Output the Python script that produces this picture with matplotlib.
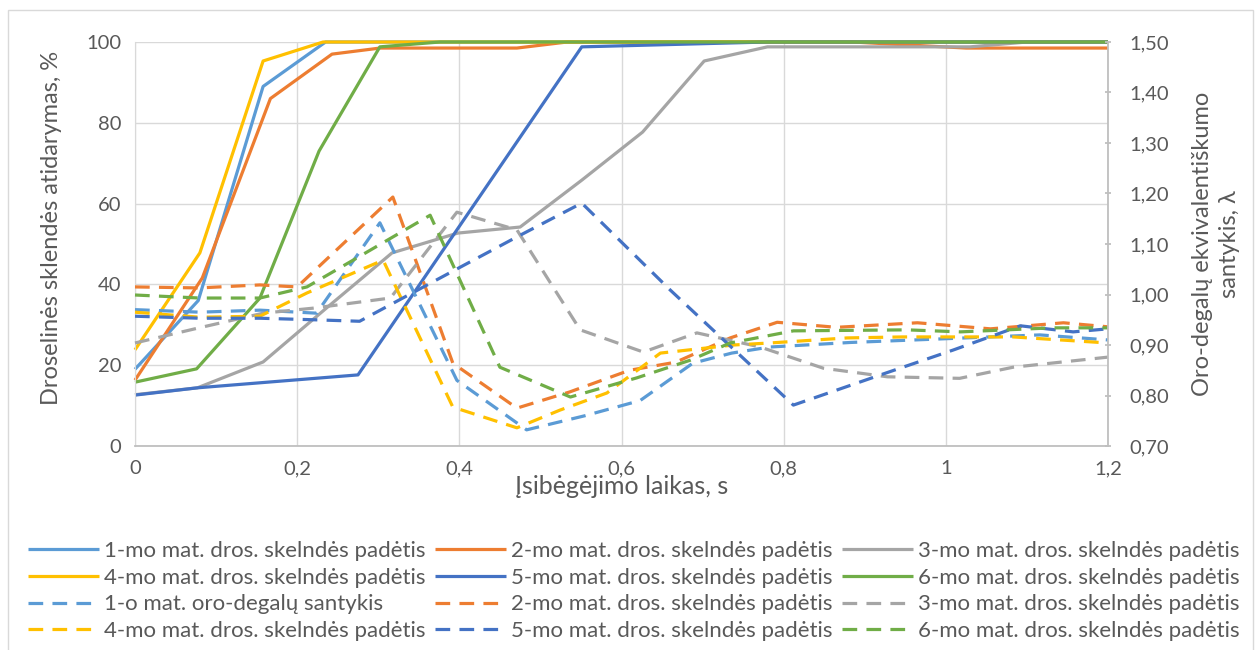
import matplotlib
matplotlib.use("Agg")
import matplotlib.pyplot as plt
from matplotlib.patches import Rectangle
from matplotlib.ticker import FuncFormatter, MultipleLocator

plt.rcParams['font.family'] = ['Lato', 'DejaVu Sans']

# --- throttle position (left axis, %) ---
t_s1 = [0, 0.078, 0.158, 0.235, 1.2]
v_s1 = [19.0, 36.0, 89.0, 100.0, 100.0]
t_s2 = [0, 0.083, 0.167, 0.243, 0.302, 0.471, 0.533, 0.885, 1.025, 1.2]
v_s2 = [16.3, 41.6, 86.0, 97.0, 98.5, 98.5, 100.0, 100.0, 98.5, 98.5]
t_s3 = [0, 0.077, 0.158, 0.237, 0.317, 0.398, 0.475, 0.551, 0.626, 0.702, 0.78, 1.03, 1.1, 1.2]
v_s3 = [12.7, 14.4, 20.8, 34.3, 47.8, 52.7, 54.2, 65.8, 77.7, 95.3, 98.8, 98.8, 100.0, 100.0]
t_s4 = [0, 0.08, 0.158, 0.232, 1.2]
v_s4 = [23.8, 47.8, 95.3, 100.0, 100.0]
t_s5 = [0, 0.077, 0.275, 0.551, 0.78, 1.2]
v_s5 = [12.6, 14.4, 17.6, 98.8, 100.0, 100.0]
t_s6 = [0, 0.076, 0.154, 0.227, 0.302, 0.376, 1.2]
v_s6 = [15.8, 19.1, 36.6, 73.0, 98.8, 100.0, 100.0]

# --- air-fuel equivalence ratio (right axis, lambda) ---
t_d1 = [0, 0.08, 0.154, 0.224, 0.302, 0.397, 0.483, 0.555, 0.623, 0.688, 0.736, 0.783, 0.882, 0.993, 1.116, 1.2]
v_d1 = [0.970, 0.965, 0.969, 0.963, 1.142, 0.830, 0.732, 0.760, 0.790, 0.864, 0.884, 0.896, 0.905, 0.912, 0.920, 0.910]
t_d2 = [0, 0.079, 0.154, 0.2, 0.318, 0.392, 0.471, 0.536, 0.61, 0.667, 0.734, 0.792, 0.865, 0.965, 1.055, 1.145, 1.2]
v_d2 = [1.015, 1.013, 1.019, 1.015, 1.193, 0.864, 0.775, 0.807, 0.850, 0.866, 0.914, 0.945, 0.935, 0.944, 0.932, 0.944, 0.936]
t_d3 = [0, 0.079, 0.158, 0.22, 0.315, 0.397, 0.471, 0.549, 0.627, 0.693, 0.771, 0.849, 0.928, 1.017, 1.083, 1.2]
v_d3 = [0.904, 0.934, 0.963, 0.973, 0.993, 1.163, 1.128, 0.930, 0.886, 0.924, 0.896, 0.854, 0.837, 0.834, 0.856, 0.876]
t_d4 = [0, 0.08, 0.154, 0.212, 0.306, 0.392, 0.471, 0.524, 0.582, 0.648, 0.738, 0.783, 0.878, 0.947, 1.083, 1.2]
v_d4 = [0.965, 0.955, 0.957, 1.003, 1.068, 0.777, 0.736, 0.771, 0.805, 0.884, 0.900, 0.904, 0.914, 0.916, 0.916, 0.904]
t_d5 = [0, 0.08, 0.154, 0.22, 0.277, 0.401, 0.471, 0.551, 0.66, 0.722, 0.812, 0.927, 1.009, 1.092, 1.157, 1.2]
v_d5 = [0.957, 0.953, 0.953, 0.950, 0.947, 1.054, 1.114, 1.181, 1.009, 0.916, 0.781, 0.845, 0.890, 0.938, 0.926, 0.932]
t_d6 = [0, 0.08, 0.154, 0.212, 0.269, 0.364, 0.45, 0.537, 0.619, 0.685, 0.734, 0.812, 0.952, 1.018, 1.132, 1.2]
v_d6 = [0.999, 0.993, 0.993, 1.015, 1.068, 1.157, 0.856, 0.797, 0.835, 0.870, 0.904, 0.928, 0.930, 0.926, 0.934, 0.934]

labels_solid = ["1-mo mat. dros. skelndės padėtis", "2-mo mat. dros. skelndės padėtis",
                "3-mo mat. dros. skelndės padėtis", "4-mo mat. dros. skelndės padėtis",
                "5-mo mat. dros. skelndės padėtis", "6-mo mat. dros. skelndės padėtis"]
labels_dashed = ["1-o mat. oro-degalų santykis", "2-mo mat. dros. skelndės padėtis",
                 "3-mo mat. dros. skelndės padėtis", "4-mo mat. dros. skelndės padėtis",
                 "5-mo mat. dros. skelndės padėtis", "6-mo mat. dros. skelndės padėtis"]

colors = ["#5B9BD5", "#ED7D31", "#A5A5A5", "#FFC000", "#4472C4", "#70AD47"]
TXT = "#595959"
GRID = "#D9D9D9"
AXC = "#BFBFBF"

W, H = 1256, 650
fig = plt.figure(figsize=(W / 100, H / 100), dpi=100)
fig.patch.set_facecolor("white")

# chart-area border
fig.add_artist(Rectangle((8 / W, -0.1), (1253 - 8) / W, 1.1 - 10 / H, transform=fig.transFigure,
                         fill=False, edgecolor="#D9D9D9", linewidth=1.0))

L, R, T, B = 135, 1108, 42, 446
ax = fig.add_axes([L / W, 1 - B / H, (R - L) / W, (B - T) / H])
ax2 = ax.twinx()

ax.set_xlim(0, 1.2)
ax.set_ylim(0, 100)
ax2.set_ylim(0.7, 1.5)

ax.set_axisbelow(True)
ax.grid(True, color=GRID, linewidth=1.0)
ax.xaxis.set_major_locator(MultipleLocator(0.2))
ax.yaxis.set_major_locator(MultipleLocator(20))
ax2.yaxis.set_major_locator(MultipleLocator(0.1))

def comma(fmt):
    def f(v, pos):
        return fmt(v).replace(".", ",")
    return FuncFormatter(f)

ax.xaxis.set_major_formatter(comma(lambda v: ("%g" % round(v, 2))))
ax.yaxis.set_major_formatter(FuncFormatter(lambda v, p: "%d" % v))
ax2.yaxis.set_major_formatter(comma(lambda v: "%.2f" % v))

FS_TICK = 14.5
FS_TITLE = 17
FS_LEG = 16.0
for a in (ax, ax2):
    for s in a.spines.values():
        s.set_visible(False)
ax.spines["bottom"].set_visible(True)
ax.spines["bottom"].set_color(AXC)
ax.spines["bottom"].set_linewidth(1.3)
ax.spines["left"].set_visible(True)
ax.spines["left"].set_color(GRID)
ax2.spines["right"].set_visible(True)
ax2.spines["right"].set_color(AXC)
ax2.spines["right"].set_linewidth(1.3)

ax.tick_params(axis="y", length=0, labelsize=FS_TICK, labelcolor=TXT, pad=10)
ax.tick_params(axis="x", length=0, labelsize=FS_TICK, labelcolor=TXT, pad=10)
ax2.tick_params(axis="y", length=5, width=1.3, color=AXC, direction="inout",
                labelsize=FS_TICK, labelcolor=TXT, pad=13)

ax.set_xlabel("Įsibėgėjimo laikas, s", fontsize=FS_TITLE + 1, color=TXT, va="center")
ax.xaxis.set_label_coords(0.5, -(487 - 446) / 404)
ax.set_ylabel("Droselinės sklendės atidarymas, %", fontsize=FS_TITLE, color=TXT, va="center")
ax.yaxis.set_label_coords((52 - 135) / 973, (446 - 228) / 404)
ax2.set_ylabel("Oro-degalų ekvivalentiškumo\nsantykis, λ", fontsize=FS_TITLE, color=TXT,
               linespacing=1.4, va="center", rotation=90)
ax2.yaxis.set_label_coords((1216 - 135) / 973, 0.5)

LW = 2.3
solid_t = [t_s1, t_s2, t_s3, t_s4, t_s5, t_s6]
solid_v = [v_s1, v_s2, v_s3, v_s4, v_s5, v_s6]
dash_t = [t_d1, t_d2, t_d3, t_d4, t_d5, t_d6]
dash_v = [v_d1, v_d2, v_d3, v_d4, v_d5, v_d6]

solid_lines, dash_lines = [], []
for i in range(6):
    ln, = ax.plot(solid_t[i], solid_v[i], color=colors[i], lw=LW, label=labels_solid[i],
                  clip_on=False, solid_joinstyle="round", solid_capstyle="butt")
    solid_lines.append(ln)
for i in range(6):
    ln, = ax2.plot(dash_t[i], dash_v[i], color=colors[i], lw=LW, label=labels_dashed[i],
                   dashes=(4.6, 2.9), clip_on=False, dash_joinstyle="round")
    dash_lines.append(ln)

# legend: three columns, four rows (row-major order laid out column by column)
cols = []
for c in range(3):
    cols += [solid_lines[c], solid_lines[c + 3], dash_lines[c], dash_lines[c + 3]]
leg = fig.legend(handles=cols, labels=[h.get_label() for h in cols], ncol=3,
                 loc="upper left", bbox_to_anchor=(28 / W, 1 - 541 / H),
                 frameon=False, fontsize=FS_LEG, handlelength=3.2, handletextpad=0.2,
                 columnspacing=0.45, labelspacing=0.3, borderpad=0, borderaxespad=0)
for txt in leg.get_texts():
    txt.set_color(TXT)

fig.savefig("out.png", dpi=100)
